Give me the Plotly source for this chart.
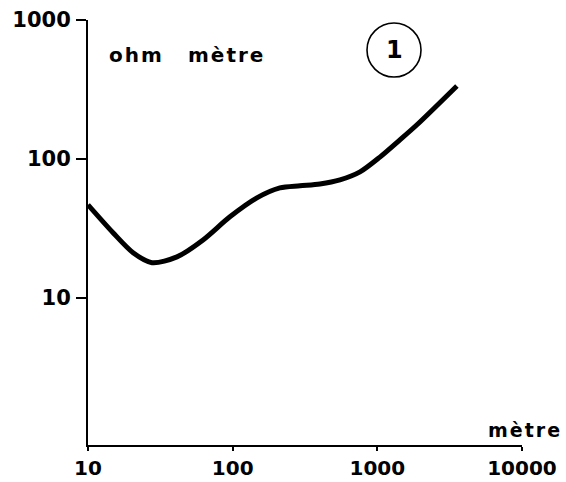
import plotly.graph_objects as go

# Apparent resistivity sounding curve (log-log)
depth_m = [10, 14.9, 20.5, 27.7, 41.2, 62.4, 95.7, 147, 212, 292, 401, 552, 759, 1042, 1432, 1879, 3548]
resistivity_ohm_m = [46.7, 29.4, 21.1, 17.9, 19.7, 26.1, 38.3, 52.4, 61.8, 64, 66, 70.6, 80.6, 103, 137, 176, 335]

x_ticks = [10, 100, 1000, 10000]
x_tick_labels = ["10", "100", "1000", "10000"]
y_ticks = [10, 100, 1000]
y_tick_labels = ["10", "100", "1000"]

FONT = "DejaVu Sans"

fig = go.Figure()
fig.add_trace(go.Scatter(
    x=depth_m, y=resistivity_ohm_m,
    mode="lines",
    line=dict(color="black", width=5, shape="spline", smoothing=0.8),
    hoverinfo="skip",
))

fig.update_layout(
    width=566, height=482,
    margin=dict(l=88, r=44, t=20, b=37),
    paper_bgcolor="white", plot_bgcolor="white",
    showlegend=False,
    font=dict(family=FONT, color="black"),
    xaxis=dict(
        type="log", range=[1, 4], automargin=False,
        tickvals=x_ticks, ticktext=x_tick_labels,
        tickfont=dict(family=FONT, size=20, color="black", weight="bold"),
        ticks="outside", ticklen=4, tickwidth=2, tickcolor="black",
        ticklabelstandoff=0,
        showline=True, linecolor="black", linewidth=2,
        showgrid=False, zeroline=False,
    ),
    yaxis=dict(
        type="log", range=[-0.06, 3], automargin=False,
        tickvals=y_ticks, ticktext=y_tick_labels,
        tickfont=dict(family=FONT, size=21, color="black", weight="bold"),
        ticks="outside", ticklen=10, tickwidth=2, tickcolor="black",
        ticklabelstandoff=1,
        showline=True, linecolor="black", linewidth=2,
        showgrid=False, zeroline=False,
    ),
)

# Unit labels
fig.add_annotation(
    text='<span style="letter-spacing:2px">ohm</span>',
    xref="paper", yref="paper", x=(136 - 88) / 434, y=(445 - 55) / 425,
    xanchor="center", yanchor="middle", showarrow=False,
    font=dict(family=FONT, size=20, color="black", weight="bold"),
)
fig.add_annotation(
    text='<span style="letter-spacing:2px">mètre</span>',
    xref="paper", yref="paper", x=(226 - 88) / 434, y=(445 - 55) / 425,
    xanchor="center", yanchor="middle", showarrow=False,
    font=dict(family=FONT, size=20, color="black", weight="bold"),
)
fig.add_annotation(
    text='<span style="letter-spacing:2px">mètre</span>',
    xref="paper", yref="paper", x=(525 - 88) / 434, y=(445 - 430) / 425,
    xanchor="center", yanchor="middle", showarrow=False,
    font=dict(family=FONT, size=19, color="black", weight="bold"),
)

# Circled curve number
fig.add_shape(
    type="circle", xref="paper", yref="paper",
    x0=(367 - 88) / 434, x1=(421 - 88) / 434,
    y0=(445 - 77) / 425, y1=(445 - 23) / 425,
    line=dict(color="black", width=1.6),
)
fig.add_annotation(
    text="1", xref="paper", yref="paper",
    x=(394 - 88) / 434, y=(445 - 50) / 425,
    xanchor="center", yanchor="middle", showarrow=False,
    font=dict(family=FONT, size=24, color="black", weight="bold"),
)

fig.write_html("out.html")
